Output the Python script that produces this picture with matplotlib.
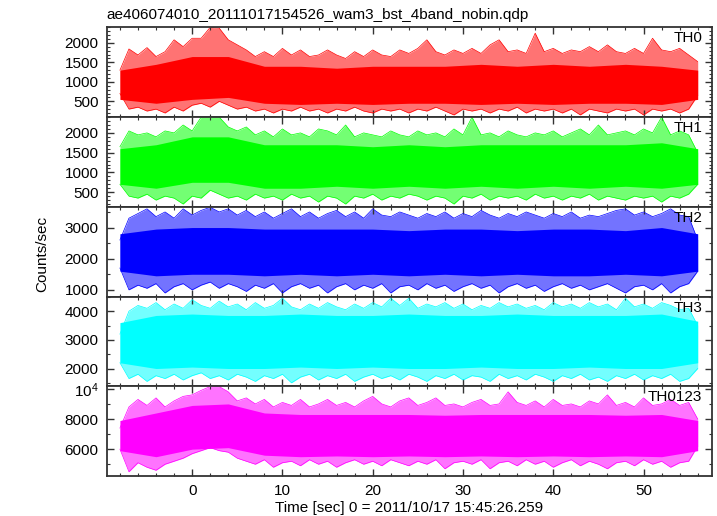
import numpy as np
import matplotlib.pyplot as plt
from matplotlib.ticker import MultipleLocator, FixedLocator, FuncFormatter

plt.rcParams['font.family'] = ['Liberation Sans', 'DejaVu Sans']

# time knots (sec) for the envelope readings
t_out = np.arange(-8, 57, 1)
t_core = np.arange(-8, 57, 4)

# TH0
th0_hi = [1300, 1845, 1690, 1880, 1650, 1775, 2080, 1905, 2120, 2120, 2400, 2380, 2080, 1950, 1820, 1650,
          1775, 1650, 1860, 1690, 1820, 1650, 1690, 1820, 1690, 1600, 1775, 1650, 1820, 1690, 1650, 1820,
          1730, 1860, 2080, 1775, 1690, 1820, 1730, 1860, 1730, 1950, 2080, 1775, 1820, 1730, 2250, 1775,
          1860, 1730, 1820, 1775, 1905, 1775, 1950, 1775, 1730, 1860, 1730, 2120, 1820, 1775, 1860, 1690, 1520]
th0_lo = [700, 300, 350, 250, 300, 200, 350, 250, 400, 450, 350, 500, 400, 300, 350, 250,
          300, 200, 300, 250, 350, 250, 300, 200, 300, 250, 350, 250, 200, 300, 250, 300,
          200, 300, 250, 350, 250, 150, 300, 250, 300, 200, 300, 250, 350, 200, 300, 250,
          300, 200, 300, 150, 300, 250, 200, 300, 250, 300, 150, 300, 250, 300, 200, 300, 650]
th0_chi = [1300, 1450, 1650, 1650, 1400, 1400, 1350, 1400, 1400, 1400, 1450, 1400, 1450, 1400, 1450, 1400, 1300]
th0_clo = [550, 450, 550, 600, 450, 420, 450, 420, 450, 450, 420, 450, 420, 450, 450, 420, 550]

# TH1
th1_hi = [1650, 2050, 1950, 2000, 1900, 2050, 2000, 2200, 2050, 2400, 2400, 2400, 2150, 2050, 2150, 1950,
          2050, 1900, 2100, 1950, 2000, 1900, 2100, 2050, 1950, 2200, 1900, 2000, 1950, 1900, 2050, 1950,
          1900, 2050, 1950, 2000, 1900, 2100, 1950, 2400, 1950, 2000, 1900, 2050, 1950, 1900, 2000, 1950,
          2050, 1900, 2000, 2100, 1950, 2200, 1950, 2000, 2050, 1950, 2100, 2000, 2400, 1950, 2050, 1950, 1500]
th1_lo = [700, 400, 350, 450, 300, 400, 350, 200, 400, 350, 550, 450, 350, 400, 300, 450,
          350, 400, 300, 450, 350, 400, 250, 400, 350, 200, 400, 350, 450, 300, 400, 350,
          450, 400, 300, 400, 350, 200, 400, 350, 450, 300, 400, 350, 400, 300, 450, 350,
          400, 300, 400, 350, 450, 300, 400, 350, 300, 400, 350, 400, 250, 400, 350, 450, 700]
th1_chi = [1600, 1700, 1900, 1900, 1700, 1700, 1700, 1650, 1700, 1650, 1700, 1700, 1700, 1700, 1700, 1750, 1600]
th1_clo = [700, 600, 750, 750, 600, 600, 650, 600, 650, 600, 650, 600, 650, 600, 650, 600, 700]

# TH2
th2_hi = [2600, 3300, 3450, 3600, 3350, 3500, 3300, 3600, 3400, 3550, 3650, 3500, 3600, 3400, 3550, 3350,
          3500, 3300, 3450, 3600, 3350, 3500, 3300, 3450, 3550, 3350, 3500, 3300, 3600, 3400, 3350, 3500,
          3400, 3300, 3450, 3350, 3500, 3300, 3450, 3350, 3550, 3400, 3300, 3450, 3350, 3500, 3400, 3300,
          3450, 3350, 3500, 3300, 3400, 3350, 3450, 3550, 3600, 3400, 3500, 3350, 3450, 3600, 3400, 3350, 2600]
th2_lo = [1700, 1000, 1150, 1050, 1200, 900, 1100, 1200, 1000, 1150, 1250, 1050, 1200, 1100, 950, 1150,
          1050, 1200, 900, 1100, 1200, 1050, 1150, 900, 1100, 1200, 1000, 1150, 1050, 1200, 900, 1100,
          1150, 1000, 1200, 1050, 1150, 950, 1100, 1200, 1050, 1150, 900, 1100, 1200, 1050, 1150, 950,
          1100, 1200, 1050, 1150, 1000, 1100, 1200, 1050, 900, 1100, 1150, 1000, 1200, 900, 1100, 1200, 1600]
th2_chi = [2800, 2950, 3000, 3000, 2950, 2950, 2950, 2950, 2900, 2950, 2950, 2900, 2950, 2950, 2900, 3000, 2800]
th2_clo = [1600, 1450, 1500, 1500, 1450, 1500, 1450, 1500, 1450, 1500, 1450, 1500, 1450, 1450, 1500, 1450, 1600]

# TH3
th3_hi = [3200, 4000, 4200, 4100, 4300, 4050, 4250, 4100, 4400, 4200, 4100, 4350, 4150, 4250, 4050, 4300,
          4100, 4200, 4450, 4150, 4050, 4250, 4100, 4300, 4150, 4050, 4250, 4100, 4300, 4150, 4450, 4200,
          4450, 4100, 4250, 4150, 4300, 4100, 4250, 4050, 4200, 4100, 4300, 4150, 4250, 4100, 4200, 4050,
          4300, 4150, 4250, 4100, 4300, 4150, 4250, 4050, 4450, 4150, 4250, 4100, 4300, 4200, 4050, 4100, 3500]
th3_lo = [2200, 1650, 1800, 1550, 1750, 1650, 1800, 1600, 1750, 1850, 1650, 1750, 1600, 1800, 1700, 1550,
          1750, 1650, 1800, 1500, 1700, 1800, 1600, 1750, 1650, 1800, 1550, 1700, 1800, 1650, 1750, 1600,
          1800, 1700, 1550, 1750, 1650, 1800, 1600, 1750, 1700, 1550, 1800, 1650, 1750, 1600, 1800, 1700,
          1550, 1750, 1650, 1800, 1600, 1700, 1550, 1750, 1650, 1800, 1600, 1750, 1650, 1800, 1550, 1650, 2000]
th3_chi = [3600, 3850, 3900, 3850, 3850, 3900, 3850, 3850, 3900, 3850, 3850, 3900, 3850, 3850, 3850, 3900, 3650]
th3_clo = [2200, 2000, 2050, 2000, 2000, 2050, 2000, 2050, 2000, 2000, 2050, 2000, 2000, 2050, 2000, 2000, 2200]

# TH0123
ths_hi = [7400, 8800, 9300, 8900, 9400, 8800, 9200, 9500, 9600, 9900, 10150, 10150, 9800, 9200, 9400, 9000,
          9300, 8800, 9100, 8900, 9300, 8800, 9000, 9300, 8900, 9100, 8800, 9200, 9500, 9000, 8800, 9200,
          9400, 8900, 9100, 9400, 8900, 9000, 8800, 9100, 9300, 8900, 9000, 9800, 9100, 8900, 9200, 8800,
          9300, 8900, 9000, 8800, 9200, 9000, 9600, 8900, 9100, 8800, 9400, 8900, 9000, 9300, 8900, 9100, 8000]
ths_lo = [6000, 4500, 5100, 4800, 4600, 5000, 5200, 5400, 5700, 5900, 6100, 5900, 5800, 5400, 5200, 5000,
          5300, 4800, 5100, 5200, 4900, 5300, 5000, 5200, 4800, 5100, 5300, 5000, 5200, 4900, 5300, 5100,
          4900, 5200, 5000, 5300, 4700, 5100, 5200, 5000, 5300, 4700, 5100, 5200, 4900, 5300, 5000, 5200,
          4800, 5100, 5300, 4900, 5200, 5000, 4700, 5100, 5200, 4900, 5300, 5000, 5200, 4800, 5100, 5200, 6200]
ths_chi = [7900, 8400, 8900, 9000, 8400, 8300, 8300, 8300, 8300, 8250, 8300, 8300, 8300, 8300, 8250, 8300, 7900]
ths_clo = [5900, 5500, 6000, 6100, 5600, 5500, 5550, 5500, 5550, 5500, 5550, 5500, 5550, 5500, 5550, 5500, 5900]

names = ['TH0', 'TH1', 'TH2', 'TH3', 'TH0123']
colors = ['#ff0000', '#00ff00', '#0000ff', '#00ffff', '#ff00ff']
his = [th0_hi, th1_hi, th2_hi, th3_hi, ths_hi]
los = [th0_lo, th1_lo, th2_lo, th3_lo, ths_lo]
chis = [th0_chi, th1_chi, th2_chi, th3_chi, ths_chi]
clos = [th0_clo, th1_clo, th2_clo, th3_clo, ths_clo]
ylims = [(95, 2400), (130, 2400), (785, 3665), (1380, 4510), (4220, 10170)]
majors = [[500, 1000, 1500, 2000], [500, 1000, 1500, 2000], [1000, 2000, 3000],
          [2000, 3000, 4000], [6000, 8000, 10000]]
minors = [100, 100, 500, 500, 1000]

fig, axes = plt.subplots(5, 1, figsize=(7.17, 5.16), dpi=100, sharex=True)
fig.subplots_adjust(left=0.149, right=0.9926, top=0.947, bottom=0.0775, hspace=0)

edge = '#333333'
for i, ax in enumerate(axes):
    c = colors[i]
    ax.fill_between(t_out, los[i], his[i], color=c, alpha=0.55, lw=0)
    ax.plot(t_out, his[i], color=c, lw=0.5)
    ax.plot(t_out, los[i], color=c, lw=0.5)
    ax.fill_between(t_core, clos[i], chis[i], color=c, lw=0)
    ax.set_ylim(*ylims[i])
    ax.set_xlim(-9.45, 57.55)
    ax.yaxis.set_major_locator(FixedLocator(majors[i]))
    ax.yaxis.set_minor_locator(MultipleLocator(minors[i]))
    ax.xaxis.set_major_locator(MultipleLocator(10))
    ax.xaxis.set_minor_locator(MultipleLocator(2))
    ax.tick_params(which='both', direction='in', top=True, right=True, color=edge,
                   labelsize=11, pad=6)
    ax.tick_params(which='major', length=5, width=1)
    ax.tick_params(which='minor', length=2.5, width=0.8)
    for s in ax.spines.values():
        s.set_color(edge)
        s.set_linewidth(1.3)
    ax.text(0.984, 0.877, names[i], transform=ax.transAxes, ha='right', va='center', fontsize=11)

axes[4].yaxis.set_major_formatter(FuncFormatter(
    lambda v, p: r'$\mathregular{10^4}$' if v == 10000 else '%d' % v))

axes[4].set_xlabel('Time [sec] 0 = 2011/10/17 15:45:26.259', fontsize=11, labelpad=2)
fig.text(0.149, 1 - 14.5 / 516, 'ae406074010_20111017154526_wam3_bst_4band_nobin.qdp',
         ha='left', va='center', fontsize=11)
fig.text(42 / 717, 1 - 254 / 516, 'Counts/sec', rotation=90, ha='center', va='center', fontsize=11)

fig.savefig('out.png', dpi=100)
